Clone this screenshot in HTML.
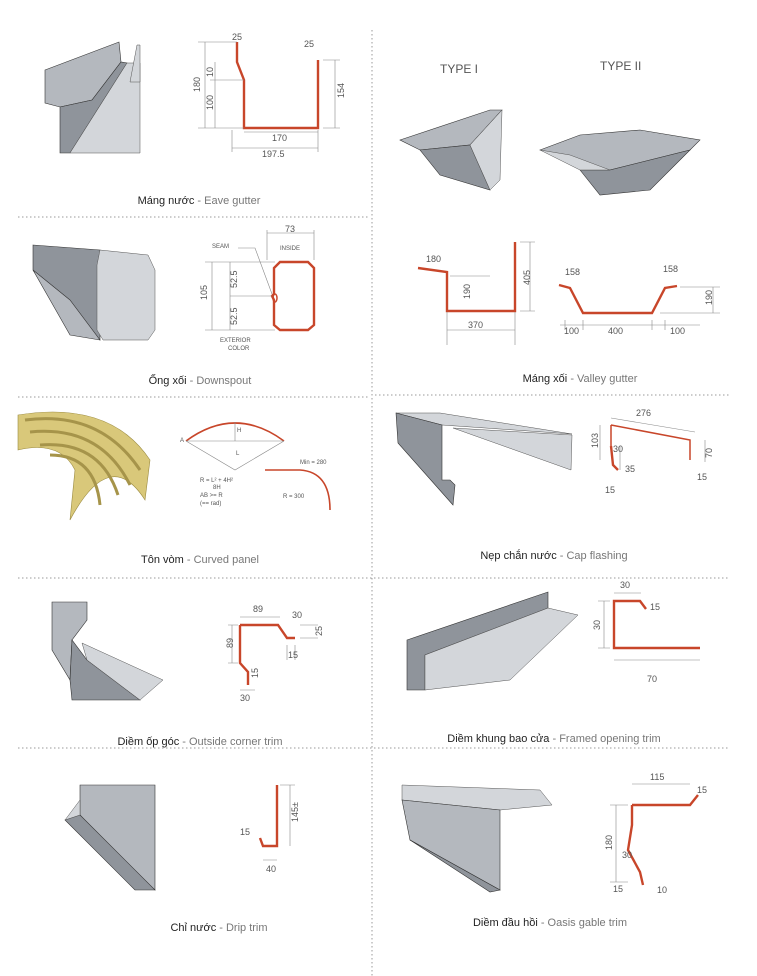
<!DOCTYPE html>
<html><head><meta charset="utf-8"><style>
html,body{margin:0;padding:0;background:#fff}
svg{display:block}
text{font-family:"Liberation Sans",sans-serif}
.lb{font-size:11px;fill:#222}
.lb tspan.e{fill:#777}
.d{font-size:9px;fill:#555}
.s{font-size:6px;fill:#555}
.r{fill:none;stroke:#c8462a;stroke-width:2.4;stroke-linejoin:miter}
.dl{fill:none;stroke:#888;stroke-width:0.6}
.g1{fill:#8f949b;stroke:#333;stroke-width:0.6}
.g2{fill:#b4b8be;stroke:#333;stroke-width:0.6}
.g3{fill:#d3d6da;stroke:#555;stroke-width:0.5}
.dot{stroke:#999;stroke-width:1;stroke-dasharray:1.5 2.5}
</style></head><body>
<svg width="757" height="976" viewBox="0 0 757 976">
<line class="dot" x1="372" y1="30" x2="372" y2="976"/>
<line class="dot" x1="18" y1="217" x2="370" y2="217"/>
<line class="dot" x1="18" y1="397" x2="370" y2="397"/>
<line class="dot" x1="375" y1="395" x2="730" y2="395"/>
<line class="dot" x1="18" y1="578" x2="730" y2="578"/>
<line class="dot" x1="18" y1="748" x2="730" y2="748"/>

<!-- ROW1 left: eave gutter -->
<polygon class="g2" points="45,70 119,42 121,62 92,100 60,107 45,103"/>
<polygon class="g1" points="60,107 92,100 121,62 127,63 70,153 60,153"/>
<polygon class="g3" points="70,153 127,63 140,63 140,153"/>
<polygon class="g3" points="130,82 137,45 140,45 140,82"/>
<path class="r" d="M237,42 L237,62 L244,80 L244,128 L318,128 L318,60"/>
<path class="dl" d="M198,42 L237,42 M198,128 L244,128 M210,80 L244,80 M323,60 L340,60 M323,128 L340,128 M244,132 L318,132 M232,148 L318,148 M232,130 L232,152 M318,130 L318,152 M205,42 L205,128 M215,62 L215,128 M335,60 L335,128"/>
<text class="d" x="232" y="40">25</text><text class="d" x="304" y="47">25</text>
<text class="d" x="200" y="92" transform="rotate(-90 200 92)">180</text>
<text class="d" x="213" y="77" transform="rotate(-90 213 77)">10</text>
<text class="d" x="213" y="110" transform="rotate(-90 213 110)">100</text>
<text class="d" x="338" y="98" transform="rotate(-90 338 98)" dy="6">154</text>
<text class="d" x="272" y="141">170</text><text class="d" x="262" y="157">197.5</text>
<text class="lb" x="199" y="204" text-anchor="middle">Máng nước <tspan class="e">- Eave gutter</tspan></text>

<!-- ROW1 right -->
<text class="d" x="440" y="73" style="font-size:12px">TYPE I</text>
<text class="d" x="600" y="70" style="font-size:12px">TYPE II</text>
<polygon class="g2" points="400,140 490,110 502,110 470,145 420,150"/>
<polygon class="g1" points="420,150 470,145 490,190 440,175"/>
<polygon class="g3" points="490,190 470,145 502,110 500,180"/>
<polygon class="g2" points="540,150 580,135 640,130 700,140 690,150 610,170"/>
<polygon class="g1" points="580,170 600,195 650,190 690,150 610,170"/>
<polygon class="g3" points="540,150 580,170 610,170 570,155"/>

<!-- ROW2 left: downspout -->
<polygon class="g1" points="33,245 100,250 100,340 70,330 33,270"/>
<polygon class="g2" points="33,270 70,300 100,340 70,335"/>
<polygon class="g3" points="100,250 148,255 155,270 155,330 148,340 103,340 97,330 97,265"/>
<path class="r" d="M280,262 L308,262 L314,268 L314,325 L308,330 L280,330 L274,325 L274,300 L272,296 L274,294 L274,268 Z"/>
<ellipse cx="275" cy="298" rx="2" ry="4" fill="none" stroke="#c8462a" stroke-width="1.5"/>
<path class="dl" d="M267,233 L314,233 M267,230 L267,260 M314,230 L314,260 M205,262 L275,262 M205,330 L275,330 M212,262 L212,330 M230,262 L230,330 M230,296 L272,296 M238,248 L255,248 L272,294"/>
<text class="d" x="285" y="232">73</text><text class="s" x="280" y="250">INSIDE</text>
<text class="s" x="212" y="248">SEAM</text>
<text class="d" x="207" y="300" transform="rotate(-90 207 300)">105</text>
<text class="d" x="237" y="288" transform="rotate(-90 237 288)">52.5</text>
<text class="d" x="237" y="325" transform="rotate(-90 237 325)">52.5</text>
<text class="s" x="220" y="342">EXTERIOR</text><text class="s" x="228" y="350">COLOR</text>
<text class="lb" x="200" y="384" text-anchor="middle">Ống xối <tspan class="e">- Downspout</tspan></text>

<!-- ROW2 right -->
<path class="r" d="M418,268 L447,272 L447,311 L515,311 L515,242"/>
<path class="dl" d="M447,330 L515,330 M447,312 L447,345 M515,312 L515,345 M520,242 L535,242 M520,311 L535,311 M530,242 L530,311 M450,276 L490,276"/>
<text class="d" x="426" y="262">180</text><text class="d" x="470" y="299" transform="rotate(-90 470 299)">190</text>
<text class="d" x="530" y="285" transform="rotate(-90 530 285)">405</text>
<text class="d" x="468" y="328">370</text>
<path class="r" d="M559,285 L570,288 L583,313 L652,313 L665,288 L677,286"/>
<path class="dl" d="M565,320 L565,330 M583,320 L583,330 M652,320 L652,330 M665,320 L665,330 M680,287 L720,287 M660,313 L720,313 M713,287 L713,313 M560,325 L700,325"/>
<text class="d" x="565" y="275">158</text><text class="d" x="663" y="272">158</text>
<text class="d" x="712" y="305" transform="rotate(-90 712 305)">190</text>
<text class="d" x="564" y="334">100</text><text class="d" x="608" y="334">400</text><text class="d" x="670" y="334">100</text>
<text class="lb" x="580" y="382" text-anchor="middle">Máng xối <tspan class="e">- Valley gutter</tspan></text>

<!-- ROW3 left: curved panel -->
<path d="M18,415 Q110,400 150,460 L145,500 Q110,445 70,520 L75,470 Q60,440 18,450 Z" fill="#d9c87a" stroke="#9a8a40" stroke-width="0.6"/>
<path d="M25,420 Q100,410 140,470 M30,432 Q100,425 130,485 M40,445 Q100,440 118,495 M50,455 Q95,455 100,505" fill="none" stroke="#a6944a" stroke-width="3"/>
<path d="M186,441 Q235,405 284,441" fill="none" stroke="#c8462a" stroke-width="1.6"/>
<path class="dl" d="M186,441 L284,441 M235,422 L235,441 M186,441 L235,470 L284,441"/>
<text class="s" x="180" y="442">A</text><text class="s" x="236" y="455">L</text><text class="s" x="237" y="432">H</text>
<text class="s" x="200" y="482">R = L² + 4H²</text><text class="s" x="213" y="489">8H</text>
<text class="s" x="200" y="497">AB &gt;= R</text><text class="s" x="200" y="505">(== rad)</text>
<path d="M265,470 L300,470 Q330,472 330,510" fill="none" stroke="#c8462a" stroke-width="1.6"/>
<text class="s" x="300" y="464">Min = 280</text><text class="s" x="283" y="498">R = 300</text>
<text class="lb" x="200" y="563" text-anchor="middle">Tôn vòm <tspan class="e">- Curved panel</tspan></text>

<!-- ROW3 right: cap flashing -->
<polygon class="g3" points="396,413 440,413 572,434 442,425"/>
<polygon class="g1" points="396,413 442,425 442,480 450,480 455,485 453,505 398,443"/>
<polygon class="g3" points="453,428 572,435 571,470"/>
<path class="r" d="M611,425 L611,446 M611,425 L690,440 L690,460" style="stroke-width:1.5"/>
<path class="r" d="M611,446 L613,465 L618,470"/>
<path class="dl" d="M611,418 L695,432 M600,425 L600,460 M620,446 L620,470 M705,440 L705,462"/>
<text class="d" x="636" y="416">276</text><text class="d" x="598" y="448" transform="rotate(-90 598 448)">103</text>
<text class="d" x="613" y="452">30</text><text class="d" x="625" y="472">35</text>
<text class="d" x="712" y="458" transform="rotate(-90 712 458)">70</text>
<text class="d" x="605" y="493">15</text><text class="d" x="697" y="480">15</text>
<text class="lb" x="554" y="559" text-anchor="middle">Nẹp chắn nước <tspan class="e">- Cap flashing</tspan></text>

<!-- ROW4 left -->
<polygon class="g2" points="52,602 87,602 87,620 72,640 70,680 52,650"/>
<polygon class="g1" points="70,680 72,640 87,660 140,700 72,700"/>
<polygon class="g3" points="87,660 82,643 163,680 140,700"/>
<path class="r" d="M240,625 L278,625 L287,638 L295,638 M240,625 L240,663 L248,672 L248,685"/>
<path class="dl" d="M240,617 L280,617 M228,625 L238,625 M228,663 L238,663 M232,625 L232,663 M300,625 L318,625 M300,638 L318,638 M287,645 L287,660 M295,645 L295,660 M240,690 L255,690"/>
<text class="d" x="253" y="612">89</text><text class="d" x="233" y="648" transform="rotate(-90 233 648)">89</text>
<text class="d" x="292" y="618">30</text><text class="d" x="322" y="636" transform="rotate(-90 322 636)">25</text>
<text class="d" x="288" y="658">15</text><text class="d" x="258" y="678" transform="rotate(-90 258 678)">15</text>
<text class="d" x="240" y="701">30</text>
<text class="lb" x="200" y="745" text-anchor="middle">Diềm ốp góc <tspan class="e">- Outside corner trim</tspan></text>

<!-- ROW4 right -->
<polygon class="g1" points="407,640 548,592 548,608 425,655 425,690 407,690"/>
<polygon class="g3" points="425,655 548,608 578,615 510,680 425,690"/>
<path class="r" d="M625,648 L614,648 L614,601 L640,601 L646,609 M614,648 L700,648"/>
<path class="dl" d="M614,593 L641,593 M598,601 L610,601 M598,648 L610,648 M604,601 L604,648 M614,660 L700,660"/>
<text class="d" x="620" y="588">30</text><text class="d" x="600" y="630" transform="rotate(-90 600 630)">30</text>
<text class="d" x="650" y="610">15</text><text class="d" x="647" y="682">70</text>
<text class="lb" x="554" y="742" text-anchor="middle">Diềm khung bao cửa <tspan class="e">- Framed opening trim</tspan></text>

<!-- ROW5 left -->
<polygon class="g2" points="80,785 155,785 155,890 120,860 80,815"/>
<polygon class="g1" points="65,820 80,815 155,890 135,890"/>
<polygon class="g3" points="65,820 80,800 80,815"/>
<path class="r" d="M260,838 L263,846 L277,846 L277,785"/>
<path class="dl" d="M263,860 L277,860 M290,785 L290,846 M280,785 L295,785"/>
<text class="d" x="298" y="822" transform="rotate(-90 298 822)">145±</text>
<text class="d" x="240" y="835">15</text><text class="d" x="266" y="872">40</text>
<text class="lb" x="219" y="931" text-anchor="middle">Chỉ nước <tspan class="e">- Drip trim</tspan></text>

<!-- ROW5 right -->
<polygon class="g3" points="402,785 540,790 552,805 500,810 402,800"/>
<polygon class="g2" points="402,800 500,810 500,890 410,840"/>
<polygon class="g1" points="410,840 500,890 490,892"/>
<path class="r" d="M632,805 L632,825 L628,850 L640,872 L643,885 M632,805 L690,805 L698,795"/>
<path class="dl" d="M632,784 L690,784 M610,805 L628,805 M610,882 L628,882 M616,805 L616,882"/>
<text class="d" x="650" y="780">115</text><text class="d" x="612" y="850" transform="rotate(-90 612 850)">180</text>
<text class="d" x="622" y="858">30</text><text class="d" x="697" y="793">15</text>
<text class="d" x="613" y="892">15</text><text class="d" x="657" y="893">10</text>
<text class="lb" x="550" y="926" text-anchor="middle">Diềm đầu hồi <tspan class="e">- Oasis gable trim</tspan></text>
</svg>
</body></html>
